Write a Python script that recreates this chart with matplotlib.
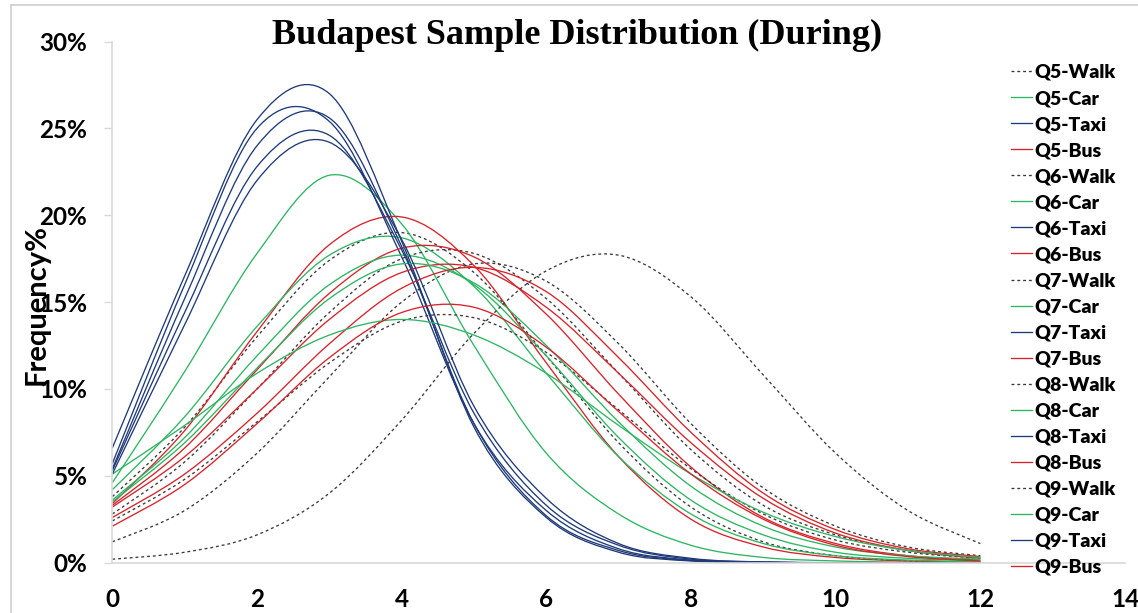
import matplotlib
matplotlib.use("Agg")
import matplotlib.pyplot as plt
from matplotlib.path import Path
from matplotlib.patches import PathPatch
from matplotlib.lines import Line2D

# x positions of the points (Excel category values)
x_vals = [0, 1, 2, 3, 4, 5, 6, 7, 8, 9, 10, 11, 12]

# frequency in percent
q5_walk = [3.8, 7.8, 13.0, 17.4, 19.0, 16.7, 11.9, 6.9, 3.2, 1.2, 0.4, 0.1, 0.03]
q5_car = [4.6, 11.0, 17.8, 22.3, 19.5, 12.5, 6.3, 2.8, 1.0, 0.3, 0.1, 0.03, 0.01]
q5_taxi = [6.6, 16.5, 25.5, 27.0, 18.5, 7.8, 2.6, 0.6, 0.1, 0.02, 0.0, 0.0, 0.0]
q5_bus = [3.4, 7.6, 13.3, 18.3, 19.9, 17.1, 11.5, 6.1, 2.5, 0.9, 0.3, 0.1, 0.03]

q6_walk = [2.8, 5.8, 10.0, 14.4, 17.5, 17.8, 15.2, 10.9, 6.5, 3.3, 1.6, 0.7, 0.3]
q6_car = [4.2, 8.4, 13.6, 17.7, 18.7, 15.9, 10.9, 6.1, 2.8, 1.1, 0.4, 0.15, 0.05]
q6_taxi = [5.7, 16.0, 25.0, 25.4, 17.6, 8.0, 3.0, 0.8, 0.15, 0.02, 0.0, 0.0, 0.0]
q6_bus = [3.3, 6.6, 11.1, 15.5, 18.1, 17.6, 14.3, 9.7, 5.5, 2.6, 1.1, 0.4, 0.15]

q7_walk = [2.4, 4.8, 8.1, 11.5, 13.9, 14.1, 12.1, 8.8, 5.4, 2.8, 1.3, 0.6, 0.25]
q7_car = [3.6, 7.2, 11.9, 16.0, 17.7, 16.0, 11.9, 7.2, 3.6, 1.6, 0.6, 0.25, 0.1]
q7_taxi = [5.4, 15.2, 24.0, 25.6, 18.2, 8.0, 2.7, 0.7, 0.12, 0.02, 0.0, 0.0, 0.0]
q7_bus = [3.2, 6.1, 10.0, 14.0, 16.7, 17.0, 14.7, 10.9, 6.9, 3.7, 1.7, 0.7, 0.25]

q8_walk = [1.2, 3.0, 6.3, 10.7, 15.0, 17.2, 16.2, 12.6, 8.0, 4.3, 2.1, 0.9, 0.4]
q8_car = [3.5, 6.9, 11.2, 15.2, 17.2, 16.1, 12.5, 8.1, 4.4, 2.1, 0.9, 0.4, 0.2]
q8_taxi = [5.3, 14.4, 22.8, 24.6, 18.0, 8.6, 3.3, 1.0, 0.2, 0.03, 0.0, 0.0, 0.0]
q8_bus = [2.6, 5.1, 8.6, 12.6, 15.8, 17.0, 15.6, 11.8, 7.5, 4.0, 1.9, 0.8, 0.35]

q9_walk = [0.2, 0.6, 1.6, 4.0, 8.2, 13.2, 16.8, 17.7, 15.3, 10.8, 6.3, 3.0, 1.1]
q9_car = [5.1, 7.9, 10.9, 13.1, 14.0, 13.1, 10.9, 7.9, 5.1, 2.9, 1.5, 0.7, 0.3]
q9_taxi = [5.1, 13.7, 22.0, 24.2, 18.6, 9.0, 3.7, 1.1, 0.25, 0.04, 0.0, 0.0, 0.0]
q9_bus = [2.1, 4.5, 8.0, 11.8, 14.4, 14.7, 12.4, 8.7, 5.1, 2.5, 1.0, 0.35, 0.1]

questions = ["Q5", "Q6", "Q7", "Q8", "Q9"]
modes = ["Walk", "Car", "Taxi", "Bus"]
series = [
    [q5_walk, q5_car, q5_taxi, q5_bus],
    [q6_walk, q6_car, q6_taxi, q6_bus],
    [q7_walk, q7_car, q7_taxi, q7_bus],
    [q8_walk, q8_car, q8_taxi, q8_bus],
    [q9_walk, q9_car, q9_taxi, q9_bus],
]

styles = {
    "Walk": dict(color="#3a3a3a", linestyle=(0, (2.2, 2.2)), linewidth=0.95),
    "Car": dict(color="#2db562", linestyle="-", linewidth=0.95),
    "Taxi": dict(color="#1f3a78", linestyle="-", linewidth=0.95),
    "Bus": dict(color="#d6232a", linestyle="-", linewidth=0.95),
}


def smooth_path(xs, ys):
    # Excel-like smoothed line: cubic bezier segments through the points
    n = len(xs)
    verts = [(xs[0], ys[0])]
    codes = [Path.MOVETO]
    for i in range(n - 1):
        i0 = max(i - 1, 0)
        i3 = min(i + 2, n - 1)
        c1 = (xs[i] + (xs[i + 1] - xs[i0]) / 6, ys[i] + (ys[i + 1] - ys[i0]) / 6)
        c2 = (xs[i + 1] - (xs[i3] - xs[i]) / 6, ys[i + 1] - (ys[i3] - ys[i]) / 6)
        verts += [c1, c2, (xs[i + 1], ys[i + 1])]
        codes += [Path.CURVE4] * 3
    return Path(verts, codes)


fig = plt.figure(figsize=(11.38, 6.13), dpi=100)
ax = fig.add_axes([0.0987, 0.0821, 0.8899, 0.8502])

handles = []
labels = []
for q, row in zip(questions, series):
    for mode, ys in zip(modes, row):
        st = styles[mode]
        patch = PathPatch(smooth_path(x_vals, ys), facecolor="none",
                          edgecolor=st["color"], linestyle=st["linestyle"],
                          linewidth=st["linewidth"])
        ax.add_patch(patch)
        handles.append(Line2D([], [], **st))
        labels.append(f"{q}-{mode}")

ax.set_xlim(0, 14)
ax.set_ylim(0, 30)
ax.set_xticks([0, 2, 4, 6, 8, 10, 12, 14])
ax.set_yticks([0, 5, 10, 15, 20, 25, 30])
ax.set_yticklabels([f"{v}%" for v in [0, 5, 10, 15, 20, 25, 30]])

for s in ["top", "right"]:
    ax.spines[s].set_visible(False)
for s in ["left", "bottom"]:
    ax.spines[s].set_color("#d9d9d9")
    ax.spines[s].set_linewidth(1.2)

ax.tick_params(axis="y", length=6, color="#d9d9d9", width=1.0, pad=12,
               labelsize=17.5)
ax.tick_params(axis="x", length=0, pad=18, labelsize=17.5)
for lab in ax.get_xticklabels() + ax.get_yticklabels():
    lab.set_fontfamily("Lato")
    lab.set_fontweight("bold")

fig.text(0.507, 0.942, "Budapest Sample Distribution (During)",
         family="Liberation Serif", fontweight="bold", fontsize=26,
         ha="center", va="center")
fig.text(0.032, 0.504, "Frequency%", family="Lato", fontweight="bold",
         fontsize=21, rotation=90, ha="center", va="center")

leg = fig.legend(handles, labels, loc="upper left",
                 bbox_to_anchor=(1011 / 1138, 1 - 64 / 613),
                 frameon=False, prop=dict(family="Lato", weight="heavy", size=14),
                 handlelength=1.1, handletextpad=0.12, labelspacing=0.465,
                 borderpad=0, borderaxespad=0)

# chart frame (Excel chart area border)
fig.add_artist(Line2D([11 / 1138, 1], [1 - 5 / 613, 1 - 5 / 613],
                      transform=fig.transFigure, color="#d0d0d0", linewidth=1.2))
fig.add_artist(Line2D([11 / 1138, 11 / 1138], [0, 1 - 5 / 613],
                      transform=fig.transFigure, color="#d0d0d0", linewidth=1.2))

fig.savefig("out.png", dpi=100)
